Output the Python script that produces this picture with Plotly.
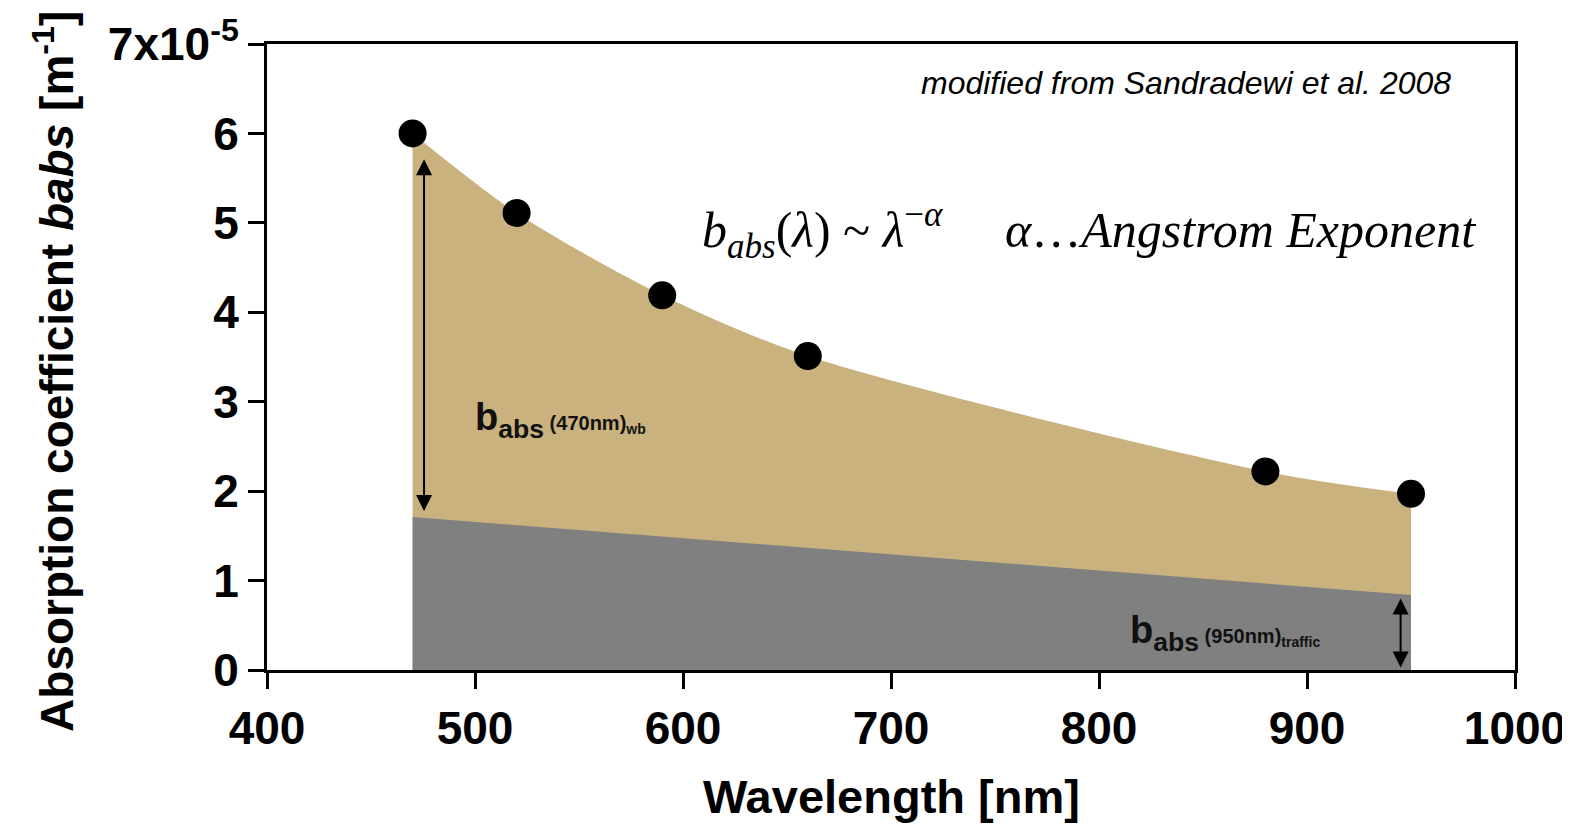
import plotly.graph_objects as go

# Data
wavelength = [470, 520, 590, 660, 880, 950]
babs = [6.0, 5.11, 4.19, 3.51, 2.22, 1.97]

traffic_wl = [470, 950]
traffic_babs = [1.71, 0.84]

x_ticks = [400, 500, 600, 700, 800, 900, 1000]
y_ticks = [0, 1, 2, 3, 4, 5, 6, 7]
y_ticktext = ["0", "1", "2", "3", "4", "5", "6", "7x10<sup>-5</sup>"]

TAN = "#C9B27E"
GRAY = "#808080"
FONT = "Liberation Sans"

fig = go.Figure()

fig.add_trace(go.Scatter(
    x=wavelength, y=babs, mode="lines", line=dict(width=0, shape="spline", smoothing=0.8, color=TAN),
    fill="tozeroy", fillcolor=TAN, hoverinfo="skip", showlegend=False))
fig.add_trace(go.Scatter(
    x=traffic_wl, y=traffic_babs, mode="lines", line=dict(width=0, color=GRAY),
    fill="tozeroy", fillcolor=GRAY, hoverinfo="skip", showlegend=False))
fig.add_trace(go.Scatter(
    x=wavelength, y=babs, mode="markers",
    marker=dict(size=28, color="black"), showlegend=False))

axis_common = dict(showline=True, linecolor="black", linewidth=3, mirror=True,
                   ticks="outside", ticklen=16, tickwidth=3, tickcolor="black",
                   showgrid=False, zeroline=False, automargin=False,
                   tickfont=dict(family=FONT, size=46, color="black", weight="bold"))

fig.update_xaxes(range=[400, 1000], tickvals=x_ticks, **axis_common)
fig.update_yaxes(range=[0, 7], tickvals=y_ticks, ticktext=y_ticktext, **axis_common)

annotations = [
    # axis titles
    dict(text="Wavelength [nm]", xref="paper", yref="paper", x=0.5, y=0, yshift=-155,
         showarrow=False, xanchor="center", yanchor="bottom",
         font=dict(family=FONT, size=47, color="black", weight="bold")),
    dict(text="Absorption coefficient <i>babs</i> [m<sup>-1</sup>]", xref="paper", yref="paper",
         x=0, xshift=-213, y=0.5, yshift=-15, textangle=-90, showarrow=False,
         xanchor="center", yanchor="middle",
         font=dict(family=FONT, size=46, color="black", weight="bold")),
    # source note
    dict(text="<i>modified from Sandradewi et al. 2008</i>", xref="x", yref="y",
         x=842, y=6.56, showarrow=False, xanchor="center", yanchor="middle",
         font=dict(family=FONT, size=32, color="black")),
    # formula
    dict(text="<i>b</i><sub><i>abs</i></sub>(<i>λ</i>) ~ <i>λ</i><sup>−<i>α</i></sup>\u00a0\u00a0\u00a0\u00a0\u00a0<i>α</i>…<i>Angstrom Exponent</i>",
         xref="x", yref="y", x=608, y=4.92, showarrow=False, xanchor="left", yanchor="middle",
         font=dict(family="Liberation Serif", size=50, color="black")),
    # labels
    dict(text="b<sub>abs</sub><span style='font-size:20px'> (470nm)<sub>wb</sub></span>",
         xref="x", yref="y", x=499, y=2.80, showarrow=False, xanchor="left", yanchor="middle",
         font=dict(family=FONT, size=38, color="#111111", weight="bold")),
    dict(text="b<sub>abs</sub><span style='font-size:20px'> (950nm)<sub>traffic</sub></span>",
         xref="x", yref="y", x=814, y=0.41, showarrow=False, xanchor="left", yanchor="middle",
         font=dict(family=FONT, size=38, color="#111111", weight="bold")),
    # double-headed arrows
    dict(x=475.5, y=5.71, ax=475.5, ay=1.76, xref="x", yref="y", axref="x", ayref="y",
         text="", showarrow=True, arrowside="end+start", arrowhead=2, arrowsize=1.6,
         arrowwidth=2, arrowcolor="black"),
    dict(x=945, y=0.80, ax=945, ay=0.01, xref="x", yref="y", axref="x", ayref="y",
         text="", showarrow=True, arrowside="end+start", arrowhead=2, arrowsize=1.6,
         arrowwidth=2, arrowcolor="black"),
]

# The page adds an 8px body margin, so the figure is made 8px smaller and margins trimmed.
fig.update_layout(
    width=1562, height=817,
    margin=dict(l=259, r=55, t=36, b=155),
    plot_bgcolor="white", paper_bgcolor="white",
    annotations=annotations, showlegend=False,
)

fig.write_html("out.html")
